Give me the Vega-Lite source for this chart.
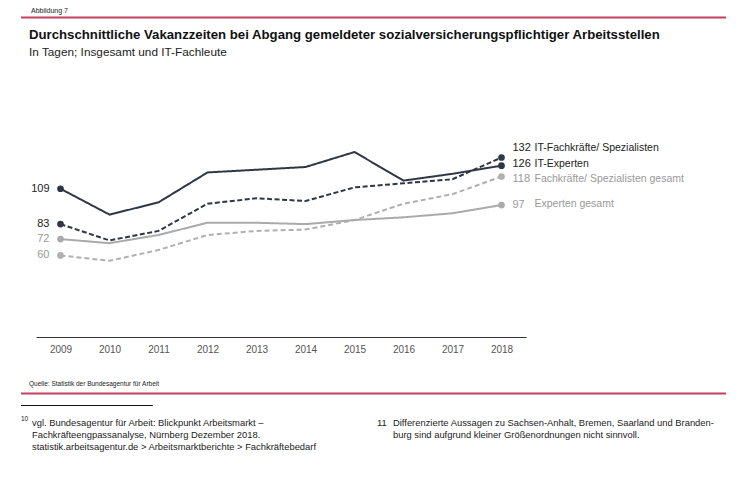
{
  "$schema": "https://vega.github.io/schema/vega-lite/v6.json",
  "padding": {"left": 20, "top": 6, "right": 0, "bottom": 0},
  "background": "white",
  "config": {"font": "Liberation Sans", "view": {"stroke": null}},
  "datasets": {
    "vakanz": [
      {"year": 2009, "series": "IT-Experten", "value": 109},
      {"year": 2010, "series": "IT-Experten", "value": 90},
      {"year": 2011, "series": "IT-Experten", "value": 99},
      {"year": 2012, "series": "IT-Experten", "value": 121},
      {"year": 2013, "series": "IT-Experten", "value": 123},
      {"year": 2014, "series": "IT-Experten", "value": 125},
      {"year": 2015, "series": "IT-Experten", "value": 136},
      {"year": 2016, "series": "IT-Experten", "value": 115},
      {"year": 2017, "series": "IT-Experten", "value": 120},
      {"year": 2018, "series": "IT-Experten", "value": 126},
      {"year": 2009, "series": "IT-Fachkräfte/ Spezialisten", "value": 83},
      {"year": 2010, "series": "IT-Fachkräfte/ Spezialisten", "value": 71},
      {"year": 2011, "series": "IT-Fachkräfte/ Spezialisten", "value": 78},
      {"year": 2012, "series": "IT-Fachkräfte/ Spezialisten", "value": 98},
      {"year": 2013, "series": "IT-Fachkräfte/ Spezialisten", "value": 102},
      {"year": 2014, "series": "IT-Fachkräfte/ Spezialisten", "value": 100},
      {"year": 2015, "series": "IT-Fachkräfte/ Spezialisten", "value": 110},
      {"year": 2016, "series": "IT-Fachkräfte/ Spezialisten", "value": 113},
      {"year": 2017, "series": "IT-Fachkräfte/ Spezialisten", "value": 116},
      {"year": 2018, "series": "IT-Fachkräfte/ Spezialisten", "value": 132},
      {"year": 2009, "series": "Fachkräfte/ Spezialisten gesamt", "value": 60},
      {"year": 2010, "series": "Fachkräfte/ Spezialisten gesamt", "value": 56},
      {"year": 2011, "series": "Fachkräfte/ Spezialisten gesamt", "value": 64},
      {"year": 2012, "series": "Fachkräfte/ Spezialisten gesamt", "value": 75},
      {"year": 2013, "series": "Fachkräfte/ Spezialisten gesamt", "value": 78},
      {"year": 2014, "series": "Fachkräfte/ Spezialisten gesamt", "value": 79},
      {"year": 2015, "series": "Fachkräfte/ Spezialisten gesamt", "value": 86},
      {"year": 2016, "series": "Fachkräfte/ Spezialisten gesamt", "value": 98},
      {"year": 2017, "series": "Fachkräfte/ Spezialisten gesamt", "value": 105},
      {"year": 2018, "series": "Fachkräfte/ Spezialisten gesamt", "value": 118},
      {"year": 2009, "series": "Experten gesamt", "value": 72},
      {"year": 2010, "series": "Experten gesamt", "value": 69},
      {"year": 2011, "series": "Experten gesamt", "value": 75},
      {"year": 2012, "series": "Experten gesamt", "value": 84},
      {"year": 2013, "series": "Experten gesamt", "value": 84},
      {"year": 2014, "series": "Experten gesamt", "value": 83},
      {"year": 2015, "series": "Experten gesamt", "value": 86},
      {"year": 2016, "series": "Experten gesamt", "value": 88},
      {"year": 2017, "series": "Experten gesamt", "value": 91},
      {"year": 2018, "series": "Experten gesamt", "value": 97}
    ],
    "notes": [
      {"note": "10", "line": 1, "text": "vgl. Bundesagentur für Arbeit: Blickpunkt Arbeitsmarkt –"},
      {"note": "10", "line": 2, "text": "Fachkräfteengpassanalyse, Nürnberg Dezember 2018."},
      {"note": "10", "line": 3, "text": "statistik.arbeitsagentur.de > Arbeitsmarktberichte > Fachkräftebedarf"},
      {"note": "11", "line": 1, "text": "Differenzierte Aussagen zu Sachsen-Anhalt, Bremen, Saarland und Branden-"},
      {"note": "11", "line": 2, "text": "burg sind aufgrund kleiner Größenordnungen nicht sinnvoll."}
    ]
  },
  "spacing": 27,
  "vconcat": [
    {
      "spacing": 9,
      "vconcat": [
        {
          "width": 705,
          "height": 1,
          "data": {"values": [{}]},
          "title": {"text": "Abbildung 7", "fontSize": 7, "anchor": "start", "dx": 11, "offset": 3, "color": "#222", "fontWeight": "normal"},
          "mark": {"type": "rule", "color": "#c4405f", "strokeWidth": 2},
          "encoding": {
            "x": {"datum": 0, "type": "quantitative", "scale": {"domain": [0, 1]}, "axis": null},
            "x2": {"datum": 1}
          }
        },
        {
          "width": 705,
          "height": 204,
          "data": {"name": "vakanz"},
          "title": {
            "text": "Durchschnittliche Vakanzzeiten bei Abgang gemeldeter sozialversicherungspflichtiger Arbeitsstellen",
            "subtitle": "In Tagen; Insgesamt und IT-Fachleute",
            "anchor": "start", "dx": 8, "fontSize": 13.2, "fontWeight": "bold", "color": "#111",
            "subtitleFontSize": 11.8, "subtitleColor": "#222", "subtitlePadding": 5, "offset": 73
          },
          "encoding": {
            "x": {"field": "year", "type": "ordinal",
                  "scale": {"type": "point", "range": [15, 505], "padding": 0.5},
                  "axis": {"labelAngle": 0, "ticks": false, "domainColor": "#333", "labelColor": "#555", "labelFontSize": 10, "labelPadding": 7, "title": null, "grid": false}},
            "y": {"field": "value", "type": "quantitative", "scale": {"domain": [0, 150]}, "axis": null}
          },
          "layer": [
            {
              "mark": {"type": "line", "strokeWidth": 2},
              "encoding": {
                "color": {"field": "series", "type": "nominal",
                          "scale": {"domain": ["Experten gesamt", "Fachkräfte/ Spezialisten gesamt", "IT-Fachkräfte/ Spezialisten", "IT-Experten"],
                                    "range": ["#aaaaaa", "#b0b0b0", "#2f3644", "#2f3644"]}, "legend": null},
                "strokeDash": {"field": "series", "type": "nominal",
                               "scale": {"domain": ["Experten gesamt", "Fachkräfte/ Spezialisten gesamt", "IT-Fachkräfte/ Spezialisten", "IT-Experten"],
                                         "range": [[1, 0], [5, 3], [5, 2.5], [1, 0]]}, "legend": null}
              }
            },
            {
              "transform": [{"filter": "datum.year == 2009 || datum.year == 2018"}],
              "mark": {"type": "circle", "size": 45, "opacity": 1},
              "encoding": {"color": {"field": "series", "type": "nominal", "legend": null}}
            },
            {
              "transform": [{"filter": "datum.year == 2009"}],
              "mark": {"type": "text", "align": "right", "baseline": "middle", "dx": -11, "fontSize": 11},
              "encoding": {
                "text": {"field": "value", "type": "quantitative"},
                "color": {"condition": {"test": "indexof(datum.series, 'IT') == 0", "value": "#222"}, "value": "#999"}
              }
            },
            {
              "transform": [{"filter": "datum.year == 2018 && datum.series == 'IT-Fachkräfte/ Spezialisten'"}],
              "layer": [
                {"mark": {"type": "text", "align": "left", "baseline": "middle", "dx": 11, "dy": -9, "fontSize": 11, "color": "#222"},
                 "encoding": {"text": {"field": "value", "type": "quantitative"}}},
                {"mark": {"type": "text", "align": "left", "baseline": "middle", "dx": 33, "dy": -9, "fontSize": 10.5, "color": "#222"},
                 "encoding": {"text": {"field": "series", "type": "nominal"}}}
              ]
            },
            {
              "transform": [{"filter": "datum.year == 2018 && datum.series == 'IT-Experten'"}],
              "layer": [
                {"mark": {"type": "text", "align": "left", "baseline": "middle", "dx": 11, "dy": -2, "fontSize": 11, "color": "#222"},
                 "encoding": {"text": {"field": "value", "type": "quantitative"}}},
                {"mark": {"type": "text", "align": "left", "baseline": "middle", "dx": 33, "dy": -2, "fontSize": 10.5, "color": "#222"},
                 "encoding": {"text": {"field": "series", "type": "nominal"}}}
              ]
            },
            {
              "transform": [{"filter": "datum.year == 2018 && datum.series == 'Fachkräfte/ Spezialisten gesamt'"}],
              "layer": [
                {"mark": {"type": "text", "align": "left", "baseline": "middle", "dx": 11, "dy": 2, "fontSize": 11, "color": "#999"},
                 "encoding": {"text": {"field": "value", "type": "quantitative"}}},
                {"mark": {"type": "text", "align": "left", "baseline": "middle", "dx": 33, "dy": 2, "fontSize": 10.5, "color": "#999"},
                 "encoding": {"text": {"field": "series", "type": "nominal"}}}
              ]
            },
            {
              "transform": [{"filter": "datum.year == 2018 && datum.series == 'Experten gesamt'"}],
              "layer": [
                {"mark": {"type": "text", "align": "left", "baseline": "middle", "dx": 11, "dy": 0, "fontSize": 11, "color": "#999"},
                 "encoding": {"text": {"field": "value", "type": "quantitative"}}},
                {"mark": {"type": "text", "align": "left", "baseline": "middle", "dx": 33, "dy": -1, "fontSize": 10.5, "color": "#999"},
                 "encoding": {"text": {"field": "series", "type": "nominal"}}}
              ]
            }
          ]
        }
      ]
    },
    {
      "spacing": 10,
      "vconcat": [
        {
          "width": 705,
          "height": 1,
          "data": {"values": [{}]},
          "title": {"text": "Quelle: Statistik der Bundesagentur für Arbeit", "fontSize": 6.5, "anchor": "start", "dx": 9, "offset": 5, "color": "#222", "fontWeight": "normal"},
          "mark": {"type": "rule", "color": "#c4405f", "strokeWidth": 2},
          "encoding": {
            "x": {"datum": 0, "type": "quantitative", "scale": {"domain": [0, 1]}, "axis": null},
            "x2": {"datum": 1}
          }
        },
        {
          "width": 705,
          "height": 1,
          "data": {"values": [{}]},
          "mark": {"type": "rule", "color": "#111", "strokeWidth": 1},
          "encoding": {
            "x": {"datum": 0, "type": "quantitative", "scale": {"domain": [0, 1]}, "axis": null},
            "x2": {"datum": 0.187}
          }
        },
        {
          "width": 705,
          "height": 60,
          "data": {"name": "notes"},
          "encoding": {
            "y": {"field": "line", "type": "quantitative", "scale": {"domain": [1, 6], "reverse": true}, "axis": null}
          },
          "layer": [
            {
              "mark": {"type": "text", "align": "left", "baseline": "middle", "dy": 7, "fontSize": 9.4, "color": "#222"},
              "encoding": {
                "x": {"field": "note", "type": "nominal", "scale": {"type": "point", "domain": ["10", "11"], "range": [11, 372], "padding": 0}, "axis": null},
                "text": {"field": "text", "type": "nominal"}
              }
            },
            {
              "transform": [{"filter": "datum.note == '10' && datum.line == 1"}],
              "mark": {"type": "text", "align": "left", "baseline": "middle", "dy": 3, "fontSize": 6.5, "color": "#222"},
              "encoding": {
                "x": {"field": "note", "type": "nominal", "scale": {"type": "point", "domain": ["10", "11"], "range": [0, 356], "padding": 0}, "axis": null},
                "text": {"field": "note", "type": "nominal"}
              }
            },
            {
              "transform": [{"filter": "datum.note == '11' && datum.line == 1"}],
              "mark": {"type": "text", "align": "left", "baseline": "middle", "dy": 7, "fontSize": 9.4, "color": "#222"},
              "encoding": {
                "x": {"field": "note", "type": "nominal", "scale": {"type": "point", "domain": ["10", "11"], "range": [0, 356], "padding": 0}, "axis": null},
                "text": {"field": "note", "type": "nominal"}
              }
            },
            {
              "data": {"values": [{}]},
              "mark": {"type": "text", "align": "left", "baseline": "middle", "dy": 8, "fontSize": 12, "color": "#111", "text": "12"},
              "encoding": {
                "x": {"datum": 0, "type": "quantitative", "scale": {"domain": [0, 1]}, "axis": null},
                "y": {"datum": 4, "type": "quantitative"}
              }
            }
          ],
          "resolve": {"scale": {"x": "independent"}}
        }
      ]
    }
  ]
}
